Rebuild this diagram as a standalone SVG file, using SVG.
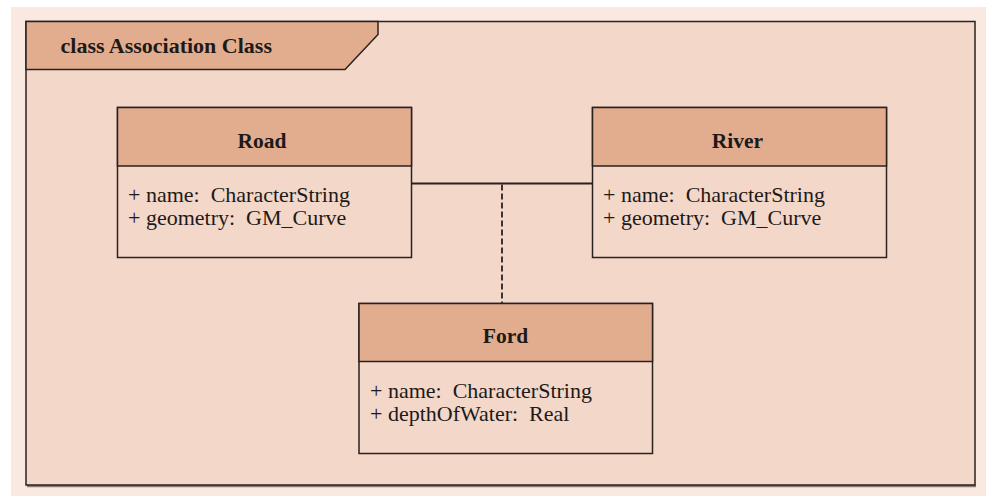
<svg xmlns="http://www.w3.org/2000/svg" width="986" height="496" viewBox="0 0 986 496">
  <style>
    .frame { fill: #F3D7C8; stroke: #2a2220; stroke-width: 1.5; }
    .tab { fill: #E2AD8F; stroke: #2a2220; stroke-width: 1.5; }
    .head { fill: #E2AD8F; stroke: #2a2220; stroke-width: 1.5; }
    .body { fill: #F3D7C8; stroke: #2a2220; stroke-width: 1.5; }
    .title { font-family: "Liberation Serif", "Times New Roman", serif; font-weight: bold; font-size: 22px; fill: #1e1a18; }
    .name { font-family: "Liberation Serif", "Times New Roman", serif; font-weight: bold; font-size: 21.5px; fill: #1e1a18; text-anchor: middle; }
    .attr { font-family: "Liberation Serif", "Times New Roman", serif; font-size: 22px; fill: #1e1a18; white-space: pre; }
    .assoc { fill: none; stroke: #2a2220; stroke-width: 1.8; }
    .dash { fill: none; stroke: #2a2220; stroke-width: 1.8; stroke-dasharray: 6 3; }
  </style>

  <!-- page background -->
  <rect x="0" y="0" width="986" height="496" fill="#ffffff"/>
  <rect x="11" y="7" width="975" height="489" fill="#FAE9E1"/>

  <!-- diagram frame with its name tab -->
  <g id="frame">
    <line x1="27" y1="486" x2="976" y2="486" stroke="#8a7b75" stroke-width="2.5"/>
    <rect class="frame" x="26" y="21.5" width="949" height="463.5"/>
    <path class="tab" d="M26 21.5 H378 V34.5 L345 69.5 H26 Z"/>
    <text class="title" x="60.5" y="52.5">class Association Class</text>
  </g>

  <!-- association line and association-class link -->
  <g id="connectors">
    <line class="assoc" x1="411.5" y1="183.5" x2="592.5" y2="183.5"/>
    <line class="dash" x1="502" y1="184.5" x2="502" y2="303"/>
  </g>

  <g id="road">
    <rect class="body" x="117.5" y="107.5" width="294" height="150"/>
    <rect class="head" x="117.5" y="107.5" width="294" height="58.5"/>
    <text class="name" x="262" y="147.5">Road</text>
    <text class="attr" x="128" y="201.5">+ name:  CharacterString</text>
    <text class="attr" x="128" y="224.5">+ geometry:  GM_Curve</text>
  </g>

  <g id="river">
    <rect class="body" x="592.5" y="107.5" width="294" height="150"/>
    <rect class="head" x="592.5" y="107.5" width="294" height="58.5"/>
    <text class="name" x="737.5" y="147.5">River</text>
    <text class="attr" x="603" y="201.5">+ name:  CharacterString</text>
    <text class="attr" x="603" y="224.5">+ geometry:  GM_Curve</text>
  </g>

  <g id="ford">
    <rect class="body" x="359" y="303.5" width="293.5" height="150"/>
    <rect class="head" x="359" y="303.5" width="293.5" height="58"/>
    <text class="name" x="505.5" y="342.5">Ford</text>
    <text class="attr" x="370" y="397.8">+ name:  CharacterString</text>
    <text class="attr" x="370" y="421">+ depthOfWater:  Real</text>
  </g>
</svg>
